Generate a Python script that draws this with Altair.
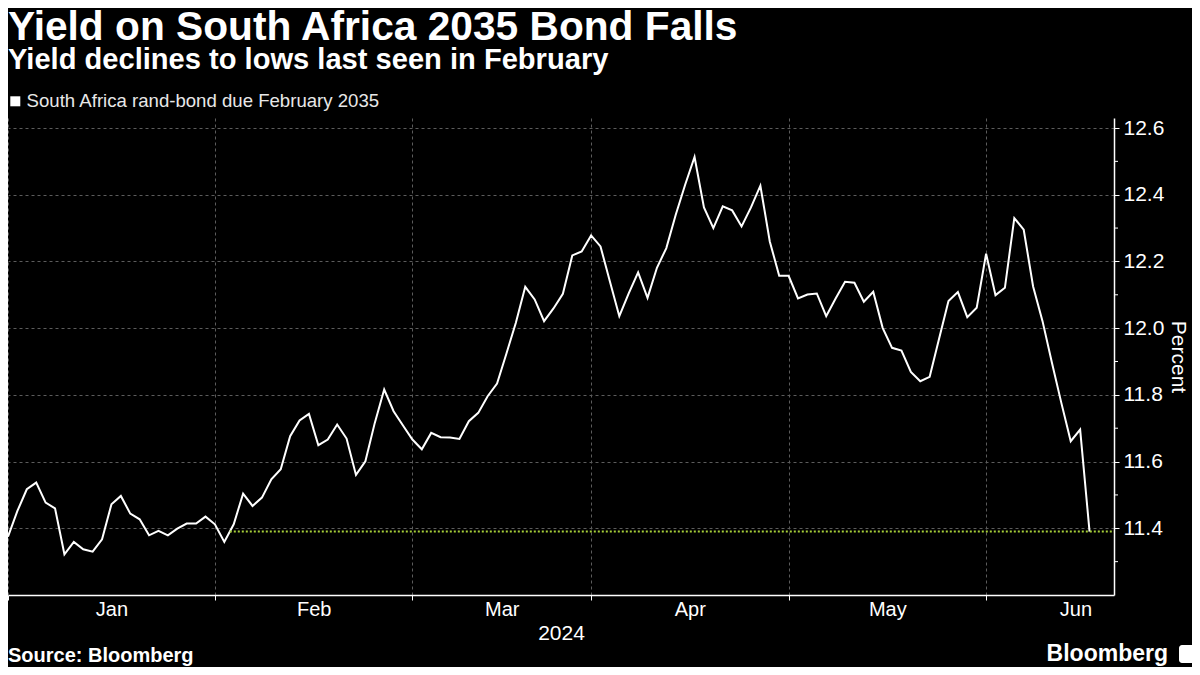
import json
import altair as alt
import pandas as pd

# ---- data (trading-day index from 2 Jan 2024) ----
yields = [11.375, 11.452, 11.517, 11.537, 11.477, 11.460, 11.322, 11.359, 11.337, 11.330,
          11.367, 11.472, 11.497, 11.444, 11.427, 11.379, 11.392, 11.379, 11.399, 11.414,
          11.414, 11.435, 11.412, 11.359, 11.412, 11.504, 11.467, 11.492, 11.547, 11.577,
          11.676, 11.723, 11.743, 11.649, 11.666, 11.711, 11.669, 11.560, 11.601, 11.716,
          11.816, 11.751, 11.708, 11.666, 11.637, 11.686, 11.673, 11.672, 11.668, 11.721,
          11.746, 11.796, 11.834, 11.924, 12.016, 12.124, 12.086, 12.021, 12.059, 12.103,
          12.218, 12.230, 12.278, 12.245, 12.140, 12.036, 12.104, 12.167, 12.091, 12.181,
          12.240, 12.340, 12.430, 12.513, 12.362, 12.300, 12.365, 12.353, 12.305, 12.362,
          12.427, 12.260, 12.157, 12.157, 12.089, 12.101, 12.104, 12.036, 12.089, 12.139,
          12.136, 12.079, 12.109, 12.001, 11.941, 11.933, 11.869, 11.841, 11.854, 11.968,
          12.081, 12.108, 12.033, 12.061, 12.223, 12.099, 12.121, 12.330, 12.295, 12.125,
          12.021, 11.896, 11.776, 11.661, 11.696, 11.390]
series_name = "South Africa rand-bond due February 2035"

month_names = ["Jan", "Feb", "Mar", "Apr", "May", "Jun"]
month_starts = [0, 22, 43, 62, 83, 104]          # first trading day of each month
month_mids = [11, 32.5, 52.5, 72.5, 93.5, 113.5]   # label positions
x_domain = [0, 117.6]

y_major = [11.4, 11.6, 11.8, 12.0, 12.2, 12.4, 12.6]
y_minor = [11.3, 11.5, 11.7, 11.9, 12.1, 12.3, 12.5]
y_domain = [11.2, 12.63]

title_text = "Yield on South Africa 2035 Bond Falls"
subtitle_text = "Yield declines to lows last seen in February"
source_text = "Source: Bloomberg"
brand_text = "Bloomberg"
year_text = "2024"

# ---- tables ----
df = pd.DataFrame({"idx": list(range(len(yields))), "yield": yields, "series": series_name})

last = yields[-1]
j = max(k for k in range(len(yields) - 1) if yields[k] < last)
cross = j + (last - yields[j]) / (yields[j + 1] - yields[j])
level_df = pd.DataFrame({"x0": [cross], "x1": [x_domain[1]], "y": [last]})
minor_df = pd.DataFrame({"v": y_minor})

src_df = pd.DataFrame({"text": [source_text]})
brand_df = pd.DataFrame({"text": [brand_text]})

F = "Liberation Sans"
W, H = 1106, 477
GRID = "#5c5c5c"

start_test = "indexof(%s, datum.value) >= 0" % json.dumps(month_starts)
label_expr = " : ".join(
    "datum.value == %s ? '%s'" % (m, n) for m, n in zip(month_mids, month_names)
) + " : ''"

x_scale = alt.Scale(domain=x_domain, nice=False, zero=False)
y_scale = alt.Scale(domain=y_domain, nice=False, zero=False)

x_axis = alt.Axis(
    values=month_starts + month_mids, labelExpr=label_expr, labelOverlap=False,
    title=year_text, grid=True, gridColor=GRID, gridDash=[3, 3], gridWidth=1,
    gridOpacity={"condition": {"test": start_test, "value": 1}, "value": 0},
    tickOpacity={"condition": {"test": start_test, "value": 1}, "value": 0},
    tickColor="white", tickSize=5, domainColor="white", domainWidth=1.5,
    labelColor="white", labelFont=F, labelFontSize=20, labelPadding=-1,
    titleColor="white", titleFont=F, titleFontSize=21, titleFontWeight="normal",
    titlePadding=3,
)
y_axis = alt.Axis(
    orient="right", values=y_major, format=".1f", labelOverlap=False,
    grid=True, gridColor=GRID, gridDash=[3, 3], gridWidth=1,
    tickColor="white", tickSize=5, domainColor="white", domainWidth=1.5,
    labelColor="white", labelFont=F, labelFontSize=21, labelPadding=4,
    title="Percent", titleAngle=90, titleColor="white", titleFont=F, titleFontSize=21,
    titleFontWeight="normal", titlePadding=4,
)

line = alt.Chart(df).mark_line(strokeWidth=2).encode(
    x=alt.X("idx:Q", scale=x_scale, axis=x_axis),
    y=alt.Y("yield:Q", scale=y_scale, axis=y_axis),
    color=alt.Color(
        "series:N", scale=alt.Scale(range=["white"]),
        legend=alt.Legend(
            orient="none", legendX=-2, legendY=-26, title=None, symbolType="square",
            symbolFillColor="white", symbolStrokeColor="white", symbolStrokeWidth=0,
            symbolSize=100, symbolOpacity=1, labelColor="#e8e8e8", labelFont=F,
            labelFontSize=18.6, labelOffset=2, labelLimit=0,
        ),
    ),
)

minor_ticks = alt.Chart(minor_df).mark_rule(color="white", strokeWidth=1).encode(
    y=alt.Y("v:Q", scale=y_scale), x=alt.value(W), x2=alt.value(W + 4)
)

level = alt.Chart(level_df).mark_rule(color="#a6ce39", strokeWidth=2, strokeDash=[2, 2]).encode(
    x="x0:Q", x2="x1:Q", y="y:Q"
)

source = alt.Chart(src_df).mark_text(
    align="left", baseline="alphabetic", font=F, fontSize=20, fontWeight="bold", color="white"
).encode(text="text:N", x=alt.value(0), y=alt.value(544))

brand = alt.Chart(brand_df).mark_text(
    align="right", baseline="alphabetic", font=F, fontSize=23, fontWeight="bold", color="white"
).encode(text="text:N", x=alt.value(1160), y=alt.value(543))

icon = alt.Chart(brand_df).mark_rect(color="white", cornerRadius=3).encode(
    x=alt.value(1171), x2=alt.value(1187), y=alt.value(527), y2=alt.value(545)
)

chart = alt.layer(line, minor_ticks, level, source, brand, icon).properties(
    width=W, height=H,
    autosize=alt.AutoSizeParams(type="none"),
    padding={"left": 0, "top": 110, "right": 78, "bottom": 72},
    background="black",
    title=alt.Title(
        title_text, subtitle=subtitle_text, anchor="start", orient="top", frame="group",
        offset=16, font=F, fontSize=40.7, fontWeight="bold", color="white",
        subtitleFont=F, subtitleFontSize=29.1, subtitleFontWeight="bold",
        subtitleColor="white", subtitlePadding=-3,
    ),
).configure_view(stroke=None)

chart.save("out.html", embed_options={"renderer": "svg", "actions": False})
